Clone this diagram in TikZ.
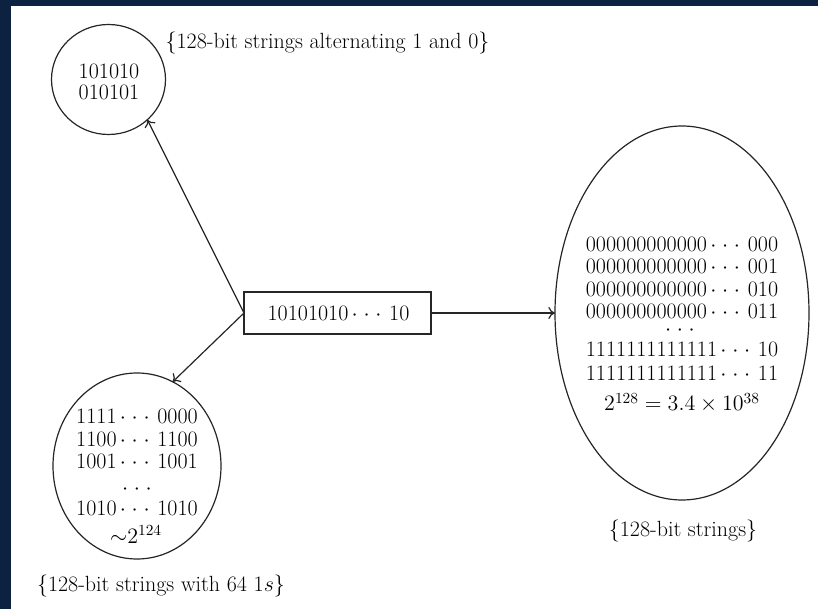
\RequirePackage{fix-cm}
\documentclass[tikz,border=0pt]{standalone}
\usetikzlibrary{shapes.geometric,arrows.meta}
\definecolor{navybg}{RGB}{13,34,64}
\newcommand{\mydots}{\hspace{0.15em}$\cdot$\hspace{0.26em}$\cdot$\hspace{0.26em}$\cdot$\hspace{0.35em}}
\newcommand{\onlydots}{$\cdot$\hspace{0.26em}$\cdot$\hspace{0.26em}$\cdot$}
\begin{document}
\begin{tikzpicture}[x=0.75pt,y=-0.75pt,
  txt/.style={font=\fontsize{16.5}{19}\selectfont, text=black, inner sep=0pt, anchor=base},
  shp/.style={draw=black!85, line width=0.9pt, inner sep=0pt, outer sep=0pt},
  arr/.style={-{To[length=5pt,width=9pt]}, draw=black!85, line width=0.9pt}]
\fill[navybg] (0,0) rectangle (818,609);
\fill[white] (11,6) rectangle (818,609);
\useasboundingbox (0,0) rectangle (818,609);

% shapes
\node[shp, ellipse, minimum width=85.5pt, minimum height=82.5pt] (c1) at (108.5,79.5) {};
\node[shp, ellipse, minimum width=126pt, minimum height=139.5pt] (c2) at (137,466) {};
\node[shp, ellipse, minimum width=190.5pt, minimum height=280.5pt] (c3) at (682,313) {};
\node[shp, rectangle, minimum width=140.25pt, minimum height=31.5pt] (box) at (337.5,313) {};

% texts
\node[txt] (lab1) at (327.5,49) {\{128-bit strings alternating 1 and 0\}};
\node[txt] (a1) at (109,79) {101010};
\node[txt] (a2) at (109,100) {010101};

\node[txt] (boxt) at (338.5,321) {10101010\mydots 10};

\node[txt] (r1) at (682,252) {000000000000\mydots 000};
\node[txt] (r2) at (682,274) {000000000000\mydots 001};
\node[txt] (r3) at (682,297) {000000000000\mydots 010};
\node[txt] (r4) at (682,319) {000000000000\mydots 011};
\node[txt] (r5) at (680,336) {\onlydots};
\node[txt] (r6) at (682,357) {1111111111111\mydots 10};
\node[txt] (r7) at (682,381) {1111111111111\mydots 11};
\node[txt] (r8) at (682,411) {$2^{128} = 3.4\times 10^{38}$};
\node[txt] (lab3) at (683,537) {\{128-bit strings\}};

\node[txt] (b1) at (137,424) {1111\mydots 0000};
\node[txt] (b2) at (137,447) {1100\mydots 1100};
\node[txt] (b3) at (137,469) {1001\mydots 1001};
\node[txt] (b4) at (137,495) {\onlydots};
\node[txt] (b5) at (137,516) {1010\mydots 1010};
\node[txt] (b6) at (136,543) {${\sim}2^{124}$};
\node[txt] (lab2) at (161,591) {\{128-bit strings with 64 1$s$\}};

% connectors
\draw[arr] (box.west) -- (c1.-46);
\draw[arr] (box.west) -- (c2.67);
\draw[arr] (box.east) -- (c3.west);
\end{tikzpicture}
\end{document}
